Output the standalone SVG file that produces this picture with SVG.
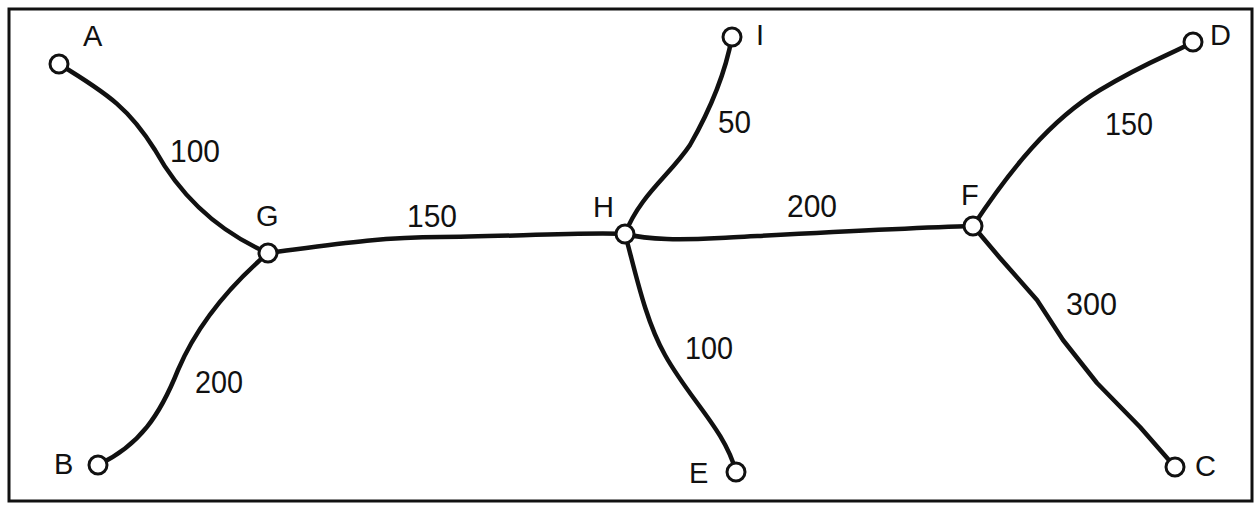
<svg xmlns="http://www.w3.org/2000/svg" width="1259" height="505" viewBox="0 0 1259 505">
<style>
.edge{fill:none;stroke:#111;stroke-width:4.5;stroke-linecap:round;stroke-linejoin:round}
.node circle{fill:#fff;stroke:#111;stroke-width:3}
.lbl{font-family:"Liberation Sans",Arial,sans-serif;font-size:29px;fill:#111}
.w{font-family:"Liberation Sans",Arial,sans-serif;font-size:32px;fill:#111}
</style>
<rect x="0" y="0" width="1259" height="505" fill="#fff"/>
<rect x="9" y="9" width="1243" height="492" fill="none" stroke="#111" stroke-width="3"/>
<g id="connectors">
<path class="edge" d="M59,64 C110,95 130,110 155,150 C180,195 215,230 268,253"/>
<path class="edge" d="M268,253 C330,245 380,237 440,237 S580,232 625,234"/>
<path class="edge" d="M625,234 C640,195 670,175 690,145 C710,110 725,75 732,37"/>
<path class="edge" d="M625,234 C650,240 680,240 720,238 S900,228 973,226"/>
<path class="edge" d="M625,234 C635,270 645,320 665,355 C690,400 725,430 736,472"/>
<path class="edge" d="M268,253 C225,290 195,330 178,370 C160,415 140,445 98,465"/>
<path class="edge" d="M973,226 C1010,170 1050,120 1100,90 S1170,55 1193,42"/>
<path class="edge" d="M973,226 L1000,258 L1037,300 L1063,340 L1097,383 L1140,427 L1175,467"/>
<text class="w" x="170" y="162" textLength="50" lengthAdjust="spacingAndGlyphs">100</text>
<text class="w" x="407" y="227" textLength="50" lengthAdjust="spacingAndGlyphs">150</text>
<text class="w" x="718" y="133" textLength="33" lengthAdjust="spacingAndGlyphs">50</text>
<text class="w" x="787" y="217" textLength="50" lengthAdjust="spacingAndGlyphs">200</text>
<text class="w" x="1105" y="135" textLength="48" lengthAdjust="spacingAndGlyphs">150</text>
<text class="w" x="1066" y="315" textLength="51" lengthAdjust="spacingAndGlyphs">300</text>
<text class="w" x="685" y="359" textLength="48" lengthAdjust="spacingAndGlyphs">100</text>
<text class="w" x="195" y="393" textLength="48" lengthAdjust="spacingAndGlyphs">200</text>
</g>
<g id="node-A" class="node"><circle cx="59" cy="64" r="9"/><text class="lbl" x="83" y="46">A</text></g>
<g id="node-G" class="node"><circle cx="268" cy="253" r="9"/><text class="lbl" x="256" y="226">G</text></g>
<g id="node-B" class="node"><circle cx="98" cy="465" r="9"/><text class="lbl" x="54" y="474">B</text></g>
<g id="node-H" class="node"><circle cx="625" cy="234" r="9"/><text class="lbl" x="593" y="217">H</text></g>
<g id="node-I" class="node"><circle cx="732" cy="37" r="9"/><text class="lbl" x="756" y="45">I</text></g>
<g id="node-D" class="node"><circle cx="1193" cy="42" r="9"/><text class="lbl" x="1210" y="45">D</text></g>
<g id="node-F" class="node"><circle cx="973" cy="226" r="9"/><text class="lbl" x="961" y="205">F</text></g>
<g id="node-E" class="node"><circle cx="736" cy="472" r="9"/><text class="lbl" x="689" y="483">E</text></g>
<g id="node-C" class="node"><circle cx="1175" cy="467" r="9"/><text class="lbl" x="1195" y="476">C</text></g>
</svg>
